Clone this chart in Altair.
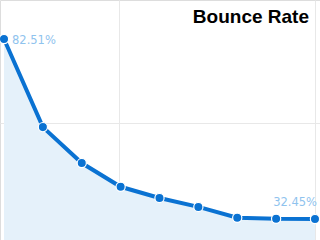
import altair as alt
import pandas as pd

steps = [0, 1, 2, 3, 4, 5, 6, 7, 8]
rate = [82.51, 58.0, 48.0, 41.4, 38.3, 35.8, 32.8, 32.5, 32.45]
labels = ["82.51%", "", "", "", "", "", "", "", "32.45%"]
title_text = "Bounce Rate"

df = pd.DataFrame({"step": steps, "rate": rate, "label": labels})

x_dom = [-0.103, 8.129]
y_dom = [26.6, 93.36]

x = alt.X("step:Q", scale=alt.Scale(domain=x_dom, nice=False, zero=False),
          axis=alt.Axis(values=[2.97, 8], grid=True, labels=False, ticks=False,
                        domain=False, title=None, gridColor="#e8e8e8", gridWidth=1))
y = alt.Y("rate:Q", scale=alt.Scale(domain=y_dom, nice=False, zero=False),
          axis=alt.Axis(values=[59.15], grid=True, labels=False, ticks=False,
                        domain=False, title=None, gridColor="#e8e8e8", gridWidth=1))

base = alt.Chart(df)

area = base.mark_area(color="#e5f1fa", opacity=1).encode(
    x=x, y=y, y2=alt.datum(y_dom[0])
)
line = base.mark_line(color="#0a72d2", strokeWidth=4).encode(x=x, y=y)
pts = base.mark_point(filled=True, size=85, color="#0a72d2", stroke="white",
                      strokeWidth=1.2, opacity=1).encode(x=x, y=y)

first = base.transform_filter(alt.datum.step == 0).mark_text(
    align="left", baseline="alphabetic", dx=8, dy=5, font="DejaVu Sans",
    fontSize=11.5, color="#8fc3ee").encode(x=x, y=y, text="label:N")
last = base.transform_filter(alt.datum.step == 8).mark_text(
    align="right", baseline="alphabetic", dx=2, dy=-13, font="DejaVu Sans",
    fontSize=11.5, color="#8fc3ee").encode(x=x, y=y, text="label:N")

title = alt.Chart(pd.DataFrame({"t": [title_text]})).mark_text(
    align="right", baseline="alphabetic", font="Liberation Sans",
    fontWeight="bold", fontSize=19, color="black").encode(
    x=alt.value(309), y=alt.value(23), text="t:N")

chart = alt.layer(area, line, pts, first, last, title).properties(
    width=320, height=240, padding=0, autosize=alt.AutoSizeParams(type="none")
).configure_view(stroke=None).configure(background="white")

chart.save("out.html", embed_options={"renderer": "svg", "actions": False})
